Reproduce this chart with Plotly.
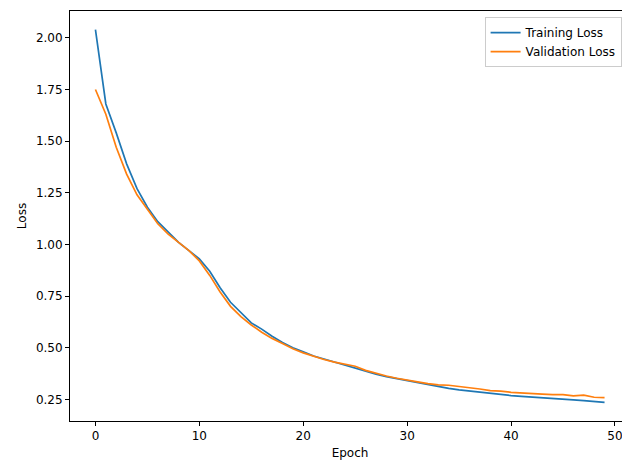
import plotly.graph_objects as go

epochs = list(range(50))
train_loss = [2.04, 1.68, 1.54, 1.39, 1.27, 1.18, 1.11, 1.06, 1.01, 0.97,
              0.93, 0.87, 0.79, 0.72, 0.67, 0.62, 0.59, 0.555, 0.525, 0.50,
              0.48, 0.46, 0.445, 0.43, 0.415, 0.40, 0.385, 0.372, 0.36, 0.35,
              0.34, 0.33, 0.32, 0.31, 0.303, 0.296, 0.29, 0.285, 0.28, 0.274,
              0.268, 0.264, 0.26, 0.256, 0.253, 0.25, 0.247, 0.244, 0.24, 0.235]
val_loss = [1.75, 1.63, 1.47, 1.34, 1.24, 1.17, 1.10, 1.05, 1.01, 0.97,
            0.92, 0.85, 0.77, 0.70, 0.65, 0.61, 0.575, 0.545, 0.52, 0.495,
            0.475, 0.458, 0.443, 0.43, 0.42, 0.41, 0.39, 0.375, 0.363, 0.352,
            0.342, 0.334, 0.326, 0.32, 0.318, 0.312, 0.308, 0.30, 0.292, 0.29,
            0.284, 0.28, 0.277, 0.275, 0.273, 0.273, 0.267, 0.27, 0.26, 0.258]

fig = go.Figure()
fig.add_trace(go.Scatter(x=epochs, y=train_loss, mode="lines", name="Training Loss",
                         line=dict(color="#1f77b4", width=1.7)))
fig.add_trace(go.Scatter(x=epochs, y=val_loss, mode="lines", name="Validation Loss",
                         line=dict(color="#ff7f0e", width=1.7)))

axis_style = dict(showgrid=False, zeroline=False, showline=True, mirror=True,
                  linecolor="black", linewidth=1, ticks="outside", ticklen=4,
                  tickcolor="black", tickfont=dict(size=12, color="black"),
                  automargin=False)

fig.update_layout(
    width=630, height=470,
    plot_bgcolor="white", paper_bgcolor="white",
    font=dict(family="DejaVu Sans", size=12, color="black"),
    margin=dict(l=62, r=8, t=3, b=57),
    xaxis=dict(range=[-2.45, 51.45], tickvals=[0, 10, 20, 30, 40, 50],
               title=dict(text="Epoch", standoff=6, font=dict(size=12)), **axis_style),
    yaxis=dict(range=[0.145, 2.13], tickvals=[0.25, 0.5, 0.75, 1.0, 1.25, 1.5, 1.75, 2.0],
               tickformat=".2f", title=dict(text="Loss", standoff=6, font=dict(size=12)), **axis_style),
    legend=dict(x=0.985, y=0.985, xanchor="right", yanchor="top",
                bgcolor="rgba(255,255,255,0.8)", bordercolor="#cccccc", borderwidth=1,
                font=dict(size=12)),
)

fig.write_html("out.html")
